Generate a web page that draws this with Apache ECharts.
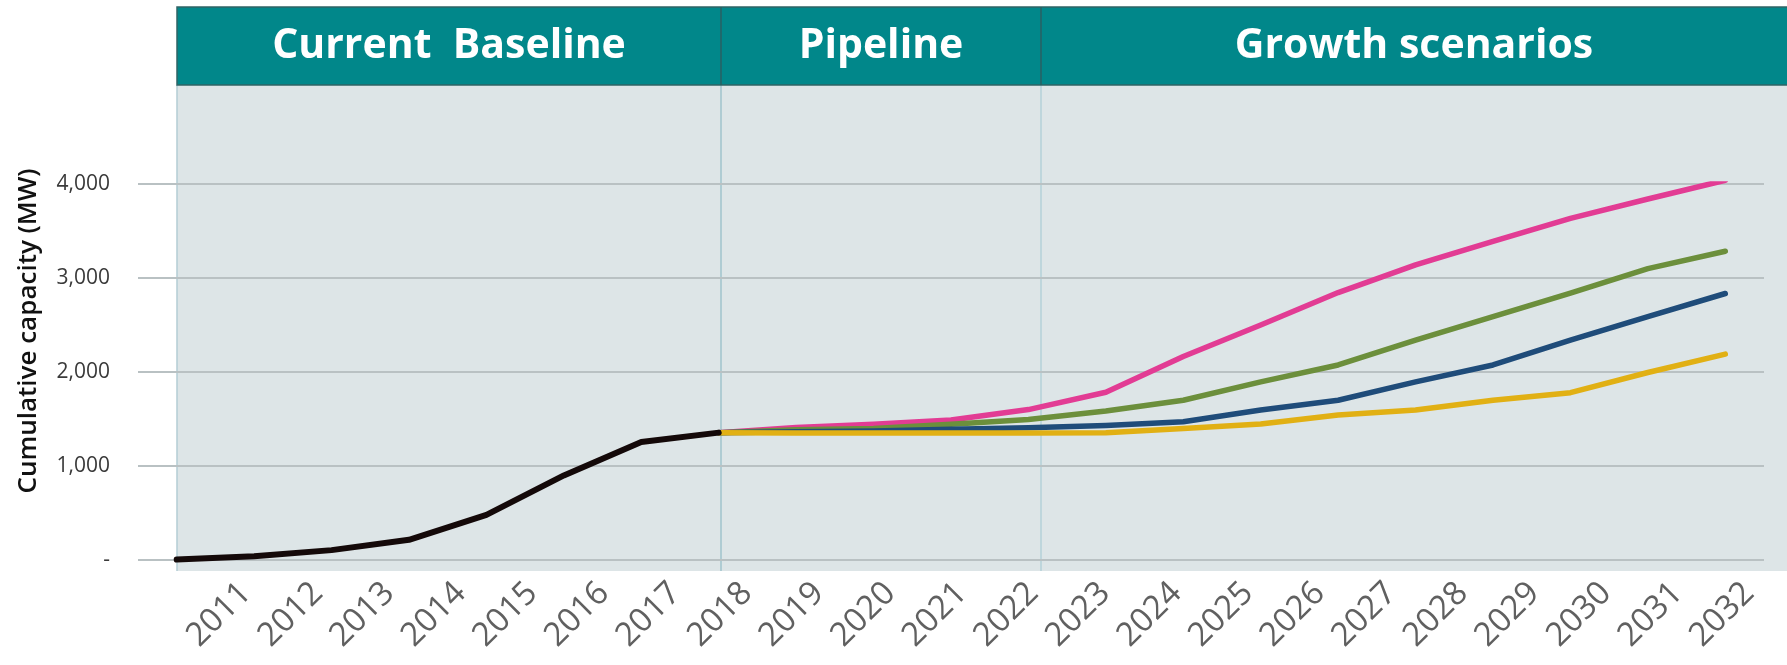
<!DOCTYPE html>
<html>
    <head>
        <meta charset="utf-8">
        <title>Cumulative capacity</title>
        <script src="https://cdn.jsdelivr.net/npm/echarts@6/dist/echarts.min.js"></script>
        <style>
            html, body { margin: 0; padding: 0; background: #fff; }
            #chart1 { width: 1787px; height: 665px; }
        </style>
    </head>
    <body>
        <div id="chart1"></div>
        <script type="text/javascript">
            // axis labels as printed under the chart
            var years = ['2011', '2012', '2013', '2014', '2015', '2016', '2017', '2018', '2019', '2020', '2021',
                         '2022', '2023', '2024', '2025', '2026', '2027', '2028', '2029', '2030', '2031', '2032'];
            // the lines have one point fewer than the labels
            var pointYears = years.slice(0, 21);

            // MW, 2011-2018
            var baseline = [5, 40, 105, 215, 480, 900, 1255, 1355];
            // MW, 2018 onwards
            var scenarioHigh = [1355, 1410, 1445, 1490, 1600, 1785, 2165, 2500, 2845, 3140, 3390, 3635, 3840, 4040];
            var scenarioMidHigh = [1355, 1385, 1400, 1445, 1495, 1585, 1700, 1895, 2075, 2340, 2590, 2840, 3100, 3285];
            var scenarioMidLow = [1355, 1365, 1372, 1390, 1408, 1430, 1470, 1595, 1700, 1895, 2075, 2340, 2590, 2835];
            var scenarioLow = [1355, 1352, 1352, 1352, 1352, 1355, 1400, 1447, 1543, 1596, 1700, 1780, 1995, 2190];

            var yTicks = [0, 1000, 2000, 3000, 4000];
            var sections = ['Current  Baseline', 'Pipeline', 'Growth scenarios'];

            var before = [null, null, null, null, null, null, null];
            function line(name, values, color, width) {
                return {
                    name: name,
                    type: 'line',
                    xAxisIndex: 0,
                    yAxisIndex: 0,
                    data: values,
                    symbol: 'none',
                    silent: true,
                    lineStyle: { color: color, width: width, cap: 'round', join: 'round' }
                };
            }

            var teal = '#01878a';
            var headTop = 7, headBottom = 85, plotBottom = 571;
            var x0 = 177, xPipe = 721, xGrowth = 1041, xEnd = 1787;

            var myChart1 = echarts.init(document.getElementById('chart1'));
            myChart1.setOption({
                animation: false,
                grid: [
                    { left: 138, right: 23, top: 184, bottom: 105 },
                    { left: 246, right: 38, top: 184, bottom: 105 }
                ],
                xAxis: [
                    {
                        type: 'category',
                        gridIndex: 0,
                        data: pointYears,
                        boundaryGap: true,
                        axisLine: { show: false },
                        axisTick: { show: false },
                        axisLabel: { show: false }
                    },
                    {
                        type: 'category',
                        gridIndex: 1,
                        data: years,
                        boundaryGap: false,
                        axisLine: { show: false },
                        axisTick: { show: false },
                        axisLabel: {
                            rotate: 45,
                            margin: 28,
                            fontSize: 33,
                            fontFamily: 'Open Sans',
                            color: '#606060',
                            interval: 0
                        }
                    }
                ],
                yAxis: [
                    {
                        type: 'value',
                        gridIndex: 0,
                        min: yTicks[0],
                        max: yTicks[yTicks.length - 1],
                        interval: 1000,
                        name: 'Cumulative capacity (MW)',
                        nameLocation: 'middle',
                        nameGap: 96,
                        nameTextStyle: {
                            fontSize: 26,
                            fontWeight: 600,
                            fontFamily: 'Open Sans',
                            color: '#111',
                            padding: [0, 0, 0, 82]
                        },
                        axisLine: { show: false },
                        axisTick: { show: false },
                        axisLabel: {
                            margin: 28,
                            fontSize: 21,
                            fontFamily: 'Open Sans',
                            color: '#3a3a3a',
                            formatter: function (v) {
                                return v === 0 ? '-' : v.toLocaleString('en-US');
                            }
                        },
                        splitLine: { lineStyle: { color: '#b9c1c3', width: 2 } }
                    },
                    { type: 'value', gridIndex: 1, show: false }
                ],
                graphic: [
                    // shaded plot background
                    { type: 'rect', z: -10, shape: { x: x0, y: headBottom, width: xEnd - x0, height: plotBottom - headBottom },
                      style: { fill: '#dde5e7' } },
                    { type: 'line', z: -9, shape: { x1: x0, y1: headBottom, x2: x0, y2: plotBottom },
                      style: { stroke: '#b3cdd4', lineWidth: 1.5 } },
                    { type: 'line', z: -9, shape: { x1: xPipe, y1: headBottom, x2: xPipe, y2: plotBottom },
                      style: { stroke: '#9fc3cd', lineWidth: 1.5 } },
                    { type: 'line', z: -9, shape: { x1: xGrowth, y1: headBottom, x2: xGrowth, y2: plotBottom },
                      style: { stroke: '#b3d1d8', lineWidth: 1.5 } },
                    // header band
                    { type: 'rect', z: 5, shape: { x: x0, y: headTop, width: xEnd - x0 + 2, height: headBottom - headTop },
                      style: { fill: teal, stroke: '#2f6466', lineWidth: 1.5 } },
                    { type: 'line', z: 6, shape: { x1: xPipe, y1: headTop, x2: xPipe, y2: headBottom },
                      style: { stroke: '#2a5f62', lineWidth: 1.5 } },
                    { type: 'line', z: 6, shape: { x1: xGrowth, y1: headTop, x2: xGrowth, y2: headBottom },
                      style: { stroke: '#2a5f62', lineWidth: 1.5 } },
                    { type: 'text', z: 7, x: (x0 + xPipe) / 2, y: (headTop + headBottom) / 2,
                      style: { text: sections[0], fill: '#fff', fontSize: 41, fontWeight: 'bold', fontFamily: 'Open Sans',
                               align: 'center', verticalAlign: 'middle', textAlign: 'center', textVerticalAlign: 'middle' } },
                    { type: 'text', z: 7, x: (xPipe + xGrowth) / 2, y: (headTop + headBottom) / 2,
                      style: { text: sections[1], fill: '#fff', fontSize: 41, fontWeight: 'bold', fontFamily: 'Open Sans',
                               align: 'center', verticalAlign: 'middle', textAlign: 'center', textVerticalAlign: 'middle' } },
                    { type: 'text', z: 7, x: (xGrowth + xEnd) / 2, y: (headTop + headBottom) / 2,
                      style: { text: sections[2], fill: '#fff', fontSize: 41, fontWeight: 'bold', fontFamily: 'Open Sans',
                               align: 'center', verticalAlign: 'middle', textAlign: 'center', textVerticalAlign: 'middle' } }
                ],
                series: [
                    line('High', before.concat(scenarioHigh), '#e23c94', 5.5),
                    line('Mid-high', before.concat(scenarioMidHigh), '#6c8f3c', 5.5),
                    line('Mid-low', before.concat(scenarioMidLow), '#1f4c7a', 5.5),
                    line('Low', before.concat(scenarioLow), '#e1b014', 5.5),
                    line('Baseline', baseline, '#140909', 6)
                ]
            });
        </script>
    </body>
</html>
